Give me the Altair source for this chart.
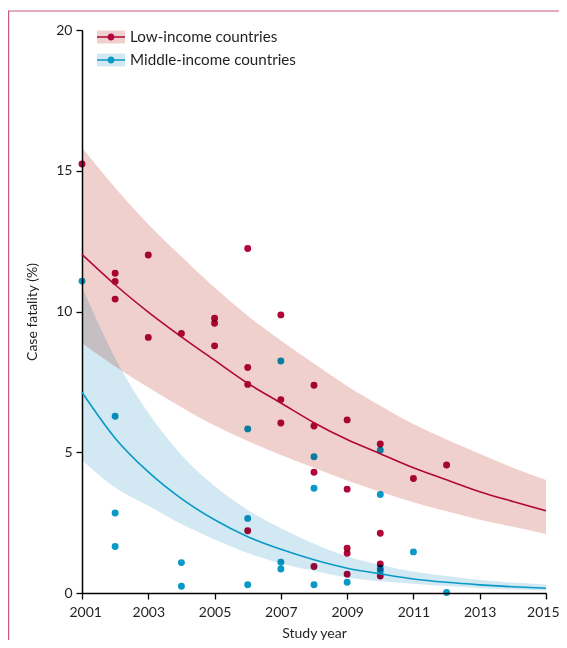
import altair as alt
import pandas as pd

# ---------------- data ----------------
groups = ["Low-income countries", "Middle-income countries"]

years = list(range(2001, 2016))
low_fit = [12.03, 10.95, 9.98, 9.10, 8.27, 7.45, 6.75, 6.05, 5.45, 4.95, 4.45, 4.02, 3.60, 3.25, 2.92]
low_upper = [15.83, 14.40, 13.10, 11.95, 10.85, 9.85, 8.97, 8.15, 7.35, 6.65, 6.00, 5.45, 4.95, 4.45, 4.01]
low_lower = [8.87, 8.05, 7.30, 6.60, 5.95, 5.40, 4.90, 4.45, 4.00, 3.60, 3.22, 2.90, 2.60, 2.35, 2.10]
mid_fit = [7.13, 5.50, 4.30, 3.35, 2.60, 2.00, 1.55, 1.18, 0.88, 0.68, 0.50, 0.38, 0.29, 0.22, 0.17]
mid_upper = [10.88, 8.35, 6.40, 4.90, 3.80, 2.95, 2.30, 1.75, 1.30, 1.00, 0.76, 0.60, 0.46, 0.37, 0.30]
mid_lower = [4.72, 3.75, 3.10, 2.45, 1.90, 1.42, 1.05, 0.78, 0.55, 0.42, 0.33, 0.25, 0.18, 0.12, 0.08]

low_years = [2001, 2002, 2002, 2002, 2003, 2003, 2004, 2005, 2005, 2005,
             2006, 2006, 2006, 2006, 2007, 2007, 2007, 2008, 2008, 2008, 2008,
             2009, 2009, 2009, 2009, 2009, 2010, 2010, 2010, 2010, 2011, 2012]
low_vals = [15.24, 11.36, 11.07, 10.44, 12.01, 9.08, 9.22, 9.76, 9.58, 8.78,
            12.24, 8.01, 7.41, 2.21, 9.88, 6.87, 6.04, 7.38, 5.93, 4.29, 0.94,
            6.15, 3.69, 1.59, 1.41, 0.67, 5.29, 2.12, 1.03, 0.60, 4.07, 4.55]
mid_years = [2001, 2002, 2002, 2002, 2004, 2004, 2006, 2006, 2006, 2007, 2007, 2007,
             2008, 2008, 2008, 2009, 2010, 2010, 2010, 2010, 2011, 2012]
mid_vals = [11.08, 6.28, 2.84, 1.65, 1.08, 0.24, 5.83, 2.65, 0.29, 8.24, 1.09, 0.85,
            4.84, 3.72, 0.29, 0.38, 5.07, 3.50, 0.88, 0.78, 1.46, 0.02]

x_ticks = [2001, 2003, 2005, 2007, 2009, 2011, 2013, 2015]
y_ticks = [0, 5, 10, 15, 20]

# ---------------- styling ----------------
FONT = "Lato"
TXT = "#231F20"
RED = "#B1063A"
BLUE = "#0899C6"
RED_BAND = "#F0D0CD"
BLUE_BAND = "#D2E9F3"
FRAME = "#C65A7A"
W, H = 464, 563

LINEDOT = ("M-1,-0.055H1V0.055H-1Z "
           "M0.25,0A0.25,0.25,0,1,1,-0.25,0A0.25,0.25,0,1,1,0.25,0Z")
RECT = "M-1,-0.46H1V0.46H-1Z"

band_df = pd.DataFrame({
    "year": years * 2,
    "lower": low_lower + mid_lower,
    "upper": low_upper + mid_upper,
    "band": [groups[0]] * len(years) + [groups[1]] * len(years),
})
fit_df = pd.DataFrame({
    "year": years * 2,
    "fit": low_fit + mid_fit,
    "line": [groups[0]] * len(years) + [groups[1]] * len(years),
})
pts_df = pd.DataFrame({
    "year": low_years + mid_years,
    "value": low_vals + mid_vals,
    "group": [groups[0]] * len(low_years) + [groups[1]] * len(mid_years),
})

x_enc = alt.X("year:Q",
              scale=alt.Scale(domain=[2001, 2015], nice=False, zero=False),
              axis=alt.Axis(values=x_ticks, format="d", title="Study year",
                            labelOverlap=False, labelFlush=True, labelFlushOffset=13,
                            labelPadding=6, titlePadding=7))
y_scale = alt.Scale(domain=[0, 20], nice=False)
y_axis = alt.Axis(values=y_ticks, title="Case fatality (%)", titlePadding=16,
                  labelPadding=4)

legend_common = dict(title=None, orient="none", legendX=15, legendY=-7,
                     symbolSize=784, symbolStrokeWidth=0, labelOffset=5,
                     rowPadding=-4, labelFontSize=15.2, labelFont=FONT,
                     labelLimit=400, labelColor=TXT, padding=0)

bands = alt.Chart(band_df).mark_area(blend="multiply", interpolate="monotone").encode(
    x=x_enc,
    y=alt.Y("lower:Q", scale=y_scale, axis=y_axis),
    y2="upper:Q",
    fill=alt.Fill("band:N", scale=alt.Scale(domain=groups, range=[RED_BAND, BLUE_BAND]),
                  legend=alt.Legend(symbolType=RECT, labelOpacity=0, **legend_common)),
)

points = alt.Chart(pts_df).mark_point(filled=True, opacity=1, size=48, blend="multiply").encode(
    x=x_enc,
    y=alt.Y("value:Q", scale=y_scale, axis=y_axis),
    color=alt.Color("group:N", scale=alt.Scale(domain=groups, range=[RED, BLUE]),
                    legend=alt.Legend(symbolType=LINEDOT, **legend_common)),
)

lines = alt.Chart(fit_df).mark_line(strokeWidth=1.6, interpolate="monotone").encode(
    x=x_enc,
    y=alt.Y("fit:Q", scale=y_scale, axis=y_axis),
    stroke=alt.Stroke("line:N", scale=alt.Scale(domain=groups, range=[RED, BLUE]), legend=None),
)

frame_df = pd.DataFrame({"k": [0]})
frame_left = alt.Chart(frame_df).mark_rule(color=FRAME, strokeWidth=1.2).encode(
    x=alt.value(-73.4), y=alt.value(-19), y2=alt.value(625))
frame_top = alt.Chart(frame_df).mark_rule(color=FRAME, strokeWidth=1.2).encode(
    x=alt.value(-74), x2=alt.value(480), y=alt.value(-19))

chart = alt.layer(bands, points, lines, frame_left, frame_top).properties(
    width=W, height=H,
    autosize=alt.AutoSizeParams(type="none"),
    padding={"left": 74, "top": 22, "right": 13, "bottom": 47},
).resolve_scale(
    fill="independent", color="independent", stroke="independent"
).configure_view(stroke=None).configure_axis(
    domainColor="black", domainWidth=1.5, tickColor="black", tickWidth=1.3,
    tickSize=6, grid=False, labelFont=FONT, labelFontSize=14, labelColor=TXT,
    titleFont=FONT, titleFontSize=14, titleFontWeight="normal",
    titleColor=TXT,
)

chart.save("out.html", embed_options={"renderer": "svg", "actions": False})
